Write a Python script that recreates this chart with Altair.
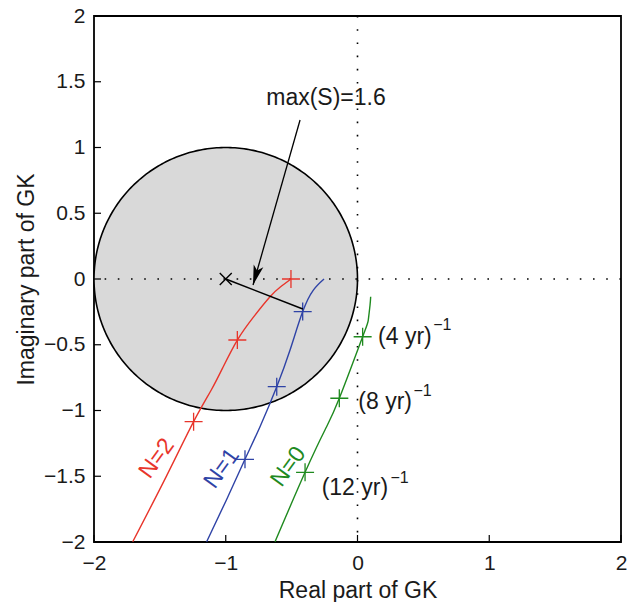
import altair as alt
import pandas as pd
import numpy as np

# ---- data (Real part, Imaginary part of GK) ----
red_x = [-0.505, -0.588, -0.664, -0.790, -0.912, -1.019, -1.110, -1.244, -1.452, -1.706]
red_y = [0.000, -0.063, -0.135, -0.290, -0.464, -0.667, -0.844, -1.085, -1.503, -1.998]
blue_x = [-0.254, -0.335, -0.416, -0.512, -0.613, -0.740, -0.854, -0.995, -1.145]
blue_y = [0.000, -0.084, -0.248, -0.540, -0.819, -1.123, -1.371, -1.680, -1.998]
green_x = [0.100, 0.095, 0.082, 0.039, -0.138, -0.247, -0.398, -0.626]
green_y = [-0.135, -0.200, -0.312, -0.439, -0.907, -1.148, -1.470, -1.998]

# frequency markers (4 yr)^-1, (8 yr)^-1, (12 yr)^-1
red_mx = [-0.505, -0.912, -1.244]
red_my = [0.000, -0.464, -1.085]
blue_mx = [-0.416, -0.613, -0.854]
blue_my = [-0.248, -0.819, -1.371]
green_mx = [0.039, -0.138, -0.398]
green_my = [-0.439, -0.907, -1.470]

series_names = ["N=2", "N=1", "N=0"]
series_colors = ["#e8352b", "#2f43a6", "#1f8a1f"]

# circle of radius 1 around -1 (max(S)=1.6 -> distance 1/1.6)
circle_cx, circle_cy, circle_r = -1.0, 0.0, 1.0
max_s = 1.6
nearest_x, nearest_y = -0.415, -0.228

x_ticks = [-2, -1, 0, 1, 2]
y_ticks = [-2, -1.5, -1, -0.5, 0, 0.5, 1, 1.5, 2]

W, H = 527, 526
FONT = "Liberation Sans"

xs = alt.Scale(domain=[-2, 2], nice=False, zero=False)
ys = alt.Scale(domain=[-2, 2], nice=False, zero=False)

# ---- build tables ----
t_half = np.linspace(0, np.pi, 181)
circ_area = pd.DataFrame({
    "x": circle_cx + circle_r * np.cos(t_half),
    "y": circle_cy + circle_r * np.sin(t_half),
    "y2": circle_cy - circle_r * np.sin(t_half),
})
t_full = np.linspace(0, 2 * np.pi, 361)
circ_line = pd.DataFrame({
    "x": circle_cx + circle_r * np.cos(t_full),
    "y": circle_cy + circle_r * np.sin(t_full),
    "i": np.arange(len(t_full)),
})

curves = []
for name, cx, cy in zip(series_names, [red_x, blue_x, green_x], [red_y, blue_y, green_y]):
    for i, (a, b) in enumerate(zip(cx, cy)):
        curves.append({"s": name, "x": a, "y": b, "i": i})
curves = pd.DataFrame(curves)

marks = []
for name, mx, my in zip(series_names, [red_mx, blue_mx, green_mx], [red_my, blue_my, green_my]):
    for a, b in zip(mx, my):
        marks.append({"s": name, "x": a, "y": b})
marks = pd.DataFrame(marks)

color = alt.Color("s:N", scale=alt.Scale(domain=series_names, range=series_colors), legend=None)

X = lambda f="x": alt.X(f"{f}:Q", scale=xs)
Y = lambda f="y": alt.Y(f"{f}:Q", scale=ys)

base_axes = alt.Chart(pd.DataFrame({"x": [0], "y": [0]})).mark_point(opacity=0).encode(
    x=alt.X("x:Q", scale=xs, title="Real part of GK",
            axis=alt.Axis(values=x_ticks, format="~g", tickSize=0, labelPadding=10,
                          titlePadding=6, grid=False, domain=False)),
    y=alt.Y("y:Q", scale=ys, title="Imaginary part of GK",
            axis=alt.Axis(values=y_ticks, format="~g", tickSize=0, labelPadding=9,
                          titlePadding=5, grid=False, domain=False)),
)

disk = alt.Chart(circ_area).mark_area(color="#d9d9d9", opacity=1).encode(
    x=X(), y=Y(), y2="y2:Q")
disk_edge = alt.Chart(circ_line).mark_line(color="black", strokeWidth=1.6).encode(
    x=X(), y=Y(), order="i:Q")

dot_style = dict(color="black", strokeWidth=1.6, strokeDash=[1.6, 11.6])
vline = alt.Chart(pd.DataFrame({"x": [0]})).mark_rule(**dot_style).encode(x=X())
hline = alt.Chart(pd.DataFrame({"y": [0]})).mark_rule(**dot_style).encode(y=Y())

lines = alt.Chart(curves).mark_line(strokeWidth=1.4, interpolate="natural").encode(
    x=X(), y=Y(), color=color, order="i:Q")
plus = alt.Chart(marks).mark_point(
    shape="M-1,0L1,0M0,-1L0,1", size=324, strokeWidth=1.3, filled=False, opacity=1
).encode(x=X(), y=Y(), color=color)

center_df = pd.DataFrame({"x": [circle_cx], "y": [circle_cy],
                          "x2": [nearest_x], "y2": [nearest_y]})
radius_line = alt.Chart(center_df).mark_rule(color="black", strokeWidth=1.5).encode(
    x=X(), y=Y(), x2="x2:Q", y2="y2:Q")
center_x = alt.Chart(center_df).mark_point(
    shape="M-1,-1L1,1M-1,1L1,-1", size=144, color="black", strokeWidth=1.4,
    filled=False, opacity=1).encode(x=X(), y=Y())

arrow_df = pd.DataFrame({"x": [-0.436], "y": [1.209], "x2": [-0.793], "y2": [-0.046]})
arrow_shaft = alt.Chart(arrow_df).mark_rule(color="black", strokeWidth=1.3).encode(
    x=X(), y=Y(), x2="x2:Q", y2="y2:Q")
arrow_head = alt.Chart(arrow_df).mark_point(
    shape="M0,0L0.5,2L0,1.5L-0.5,2Z", size=400, filled=True, color="black",
    opacity=1, angle=195.9).encode(x=X("x2"), y=Y("y2"))

ann_df = pd.DataFrame({"x": [-0.239], "y": [1.376], "t": [f"max(S)={max_s}"]})
ann = alt.Chart(ann_df).mark_text(font=FONT, fontSize=23, color="#1a1a1a",
                                  align="center", baseline="middle").encode(
    x=X(), y=Y(), text="t:N")

freq_labels = ["(4 yr)", "(8 yr)", "(12 yr)"]
freq_x = [0.156, 0.006, -0.272]
freq_y = [-0.439, -0.933, -1.592]
sup_x = [0.575, 0.425, 0.25]
sup_y = [-0.350, -0.850, -1.515]
freq = alt.Chart(pd.DataFrame({"x": freq_x, "y": freq_y, "t": freq_labels})).mark_text(
    font=FONT, fontSize=23, color="#1a1a1a", align="left", baseline="middle").encode(
    x=X(), y=Y(), text="t:N")
sup = alt.Chart(pd.DataFrame({"x": sup_x, "y": sup_y, "t": ["\u22121"] * 3})).mark_text(
    font=FONT, fontSize=16, color="#1a1a1a", align="left", baseline="middle").encode(
    x=X(), y=Y(), text="t:N")

nlab_df = pd.DataFrame({"x": [-1.524, -1.031, -0.525], "y": [-1.363, -1.440, -1.427],
                        "s": series_names})
nlab = alt.Chart(nlab_df).mark_text(font=FONT, fontSize=23, angle=306,
                                    align="center", baseline="middle").encode(
    x=X(), y=Y(), text="s:N", color=color)

xt = alt.Chart(pd.DataFrame({"x": x_ticks})).mark_rule(color="black", strokeWidth=1.2).encode(
    x=X(), y=alt.value(H), y2=alt.value(H - 7))
yt = alt.Chart(pd.DataFrame({"y": y_ticks})).mark_rule(color="black", strokeWidth=1.2).encode(
    y=Y(), x=alt.value(0), x2=alt.value(7))

chart = alt.layer(
    base_axes, disk, disk_edge, vline, hline, lines, plus, radius_line, center_x,
    arrow_shaft, arrow_head, ann, freq, sup, nlab, xt, yt
).properties(
    width=W, height=H, autosize="none",
    padding={"left": 94, "top": 16, "right": 6, "bottom": 60},
).configure_view(
    stroke="black", strokeWidth=1.8, fill="white"
).configure_axis(
    labelFont=FONT, titleFont=FONT, labelFontSize=21, titleFontSize=23,
    labelColor="#1a1a1a", titleColor="#1a1a1a", titleFontWeight="normal",
    labelFlush=False,
)

chart.save("out.html", embed_options={"renderer": "svg", "actions": False})
